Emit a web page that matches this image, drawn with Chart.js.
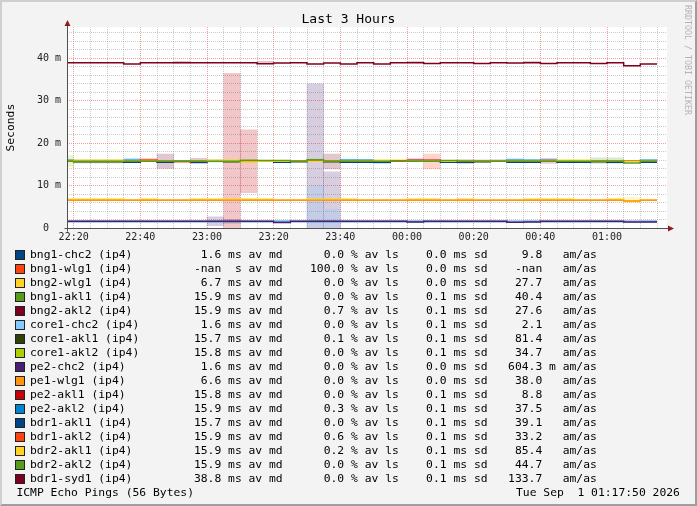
<!DOCTYPE html>
<html>
<head>
<meta charset="utf-8">
<script src="https://cdn.jsdelivr.net/npm/chart.js@4.4.1/dist/chart.umd.min.js"></script>
<style>
  html, body { margin: 0; padding: 0; background: #f3f3f3; }
  #wrap { position: relative; width: 697px; height: 506px; overflow: hidden; font-family: "DejaVu Sans Mono", monospace; color: #000; }
  #wrap canvas { position: absolute; left: 0; top: 0; }
  .frame { position: absolute; left: 0; top: 0; width: 697px; height: 506px; box-sizing: border-box; border: 2px solid; border-color: #cfcfcf #9e9e9e #9e9e9e #cfcfcf; pointer-events: none; }
  .title { position: absolute; left: 0; top: 10px; width: 697px; text-align: center; font-size: 13px; line-height: 18px; }
  .mark { position: absolute; left: 683px; top: 5px; font-size: 8.3px; line-height: 10px; color: #b4b4b4; writing-mode: vertical-rl; }
  .row { position: absolute; left: 30px; font-size: 11.35px; line-height: 14px; white-space: pre; }
  .sw { position: absolute; left: 15px; width: 10px; height: 10px; box-sizing: border-box; border: 1px solid #222; }
</style>
</head>
<body>
<div id="wrap">
  <canvas id="chart" width="697" height="506"></canvas>
  <div class="title">Last 3 Hours</div>
  <div class="mark">RRDTOOL / TOBI OETIKER</div>
  <div id="legend"></div>
  <div class="frame"></div>
</div>
<script>
// 5 minute bins, the first one is only partly on screen
const binStarts = ["22:15", "22:20", "22:25", "22:30", "22:35", "22:40", "22:45", "22:50", "22:55",
  "23:00", "23:05", "23:10", "23:15", "23:20", "23:25", "23:30", "23:35", "23:40", "23:45", "23:50", "23:55",
  "00:00", "00:05", "00:10", "00:15", "00:20", "00:25", "00:30", "00:35", "00:40", "00:45", "00:50", "00:55",
  "01:00", "01:05", "01:10"];
const binEnd = "01:15";
const viewStart = "22:18";
const viewEnd = "01:18";
const tickLabels = ["22:20", "22:40", "23:00", "23:20", "23:40", "00:00", "00:20", "00:40", "01:00"];
const yTickLabels = ["0  ", "10 m", "20 m", "30 m", "40 m"];

const names = ["bng1-chc2 (ip4)", "bng1-wlg1 (ip4)", "bng2-wlg1 (ip4)", "bng1-akl1 (ip4)", "bng2-akl2 (ip4)",
  "core1-chc2 (ip4)", "core1-akl1 (ip4)", "core1-akl2 (ip4)", "pe2-chc2 (ip4)", "pe1-wlg1 (ip4)",
  "pe2-akl1 (ip4)", "pe2-akl2 (ip4)", "bdr1-akl1 (ip4)", "bdr1-akl2 (ip4)", "bdr2-akl1 (ip4)",
  "bdr2-akl2 (ip4)", "bdr1-syd1 (ip4)"];
const colors = ["#004586", "#ff420e", "#ffd320", "#579d1c", "#7e0021", "#83caff", "#314004", "#aecf00",
  "#4b1f6f", "#ff950e", "#c5000b", "#0084d1", "#004586", "#ff420e", "#ffd320", "#579d1c", "#7e0021"];

// median rtt per bin (ms)
const bng1Chc2 = [1.6, 1.6, 1.6, 1.6, 1.6, 1.6, 1.6, 1.6, 1.6, 1.6, 1.6, 1.6, 1.6, 1.6, 1.6, 1.6, 1.6, 1.6,
  1.6, 1.6, 1.6, 1.6, 1.6, 1.6, 1.6, 1.6, 1.6, 1.6, 1.6, 1.6, 1.6, 1.6, 1.6, 1.6, 1.6, 1.6];
const bng1Wlg1 = [null, null, null, null, null, null, null, null, null, null, null, null, null, null, null, null, null, null,
  null, null, null, null, null, null, null, null, null, null, null, null, null, null, null, null, null, null];
const bng2Wlg1 = [6.85, 6.85, 6.85, 6.85, 6.65, 6.85, 6.65, 6.65, 6.85, 6.85, 6.85, 6.85, 6.85, 6.65, 6.65, 6.85, 6.85, 6.85,
  6.65, 6.65, 6.65, 6.85, 6.85, 6.65, 6.85, 6.65, 6.65, 6.65, 6.85, 6.85, 6.85, 6.65, 6.65, 6.85, 6.45, 6.65];
const bng1Akl1 = [15.9, 15.9, 15.9, 15.9, 15.9, 15.9, 15.9, 15.9, 15.9, 15.9, 15.9, 15.9, 15.9, 15.9, 15.9, 15.9, 15.9, 15.9,
  15.9, 15.9, 15.9, 15.9, 15.9, 15.9, 15.9, 15.9, 15.9, 15.9, 15.9, 15.9, 15.9, 15.9, 15.9, 15.9, 15.9, 15.9];
const bng2Akl2 = [15.85, 15.85, 15.85, 15.85, 15.85, 15.85, 15.85, 15.85, 15.85, 15.85, 15.85, 15.85, 15.85, 15.85, 15.85, 15.85, 15.85, 15.85,
  15.85, 15.85, 15.85, 15.85, 15.85, 15.85, 15.85, 15.85, 15.85, 15.85, 15.85, 15.85, 15.85, 15.85, 15.85, 15.85, 15.85, 15.85];
const core1Chc2 = [1.6, 1.6, 1.6, 1.6, 1.6, 1.6, 1.6, 1.6, 1.6, 1.6, 1.6, 1.6, 1.6, 1.72, 1.6, 1.6, 1.6, 1.6,
  1.6, 1.6, 1.6, 1.72, 1.6, 1.6, 1.6, 1.6, 1.6, 1.6, 1.72, 1.6, 1.6, 1.6, 1.6, 1.6, 1.6, 1.72];
const core1Akl1 = [15.8, 15.65, 15.65, 15.65, 15.8, 15.8, 15.8, 15.8, 15.8, 15.8, 15.65, 15.8, 15.8, 15.8, 15.65, 15.8, 15.65, 15.8,
  15.8, 15.8, 15.8, 15.8, 15.8, 15.8, 15.65, 15.65, 15.8, 15.8, 15.8, 15.8, 15.8, 15.8, 15.65, 15.8, 15.8, 15.8];
const core1Akl2 = [15.8, 15.8, 15.8, 15.8, 15.8, 15.8, 15.8, 15.8, 15.8, 15.8, 15.8, 15.8, 15.8, 15.8, 15.8, 15.8, 15.8, 15.8,
  15.8, 15.8, 15.8, 15.8, 15.8, 15.8, 15.8, 15.8, 15.8, 15.8, 15.8, 15.8, 15.8, 15.8, 15.8, 15.8, 15.8, 15.8];
const pe2Chc2 = [1.65, 1.65, 1.65, 1.65, 1.65, 1.65, 1.65, 1.65, 1.65, 1.65, 1.65, 1.65, 1.65, 1.35, 1.65, 1.65, 1.65, 1.65,
  1.65, 1.65, 1.65, 1.5, 1.65, 1.65, 1.65, 1.65, 1.65, 1.45, 1.5, 1.65, 1.65, 1.65, 1.65, 1.65, 1.5, 1.5];
const pe1Wlg1 = [6.6, 6.6, 6.6, 6.6, 6.6, 6.6, 6.6, 6.6, 6.6, 6.6, 6.6, 6.6, 6.6, 6.6, 6.6, 6.6, 6.6, 6.6,
  6.6, 6.6, 6.6, 6.6, 6.6, 6.6, 6.6, 6.6, 6.6, 6.6, 6.6, 6.6, 6.6, 6.6, 6.6, 6.6, 6.4, 6.6];
const pe2Akl1 = [15.8, 15.8, 15.8, 15.8, 15.8, 15.8, 15.8, 15.8, 15.8, 15.8, 15.8, 15.8, 15.8, 15.8, 15.8, 15.8, 15.8, 15.8,
  15.8, 15.8, 15.8, 16.05, 16.05, 15.8, 15.8, 15.8, 15.8, 15.8, 15.8, 15.8, 15.8, 15.8, 15.8, 15.8, 15.8, 15.8];
const pe2Akl2 = [16.05, 15.8, 15.8, 15.8, 16.05, 15.8, 15.8, 15.8, 15.8, 15.8, 15.8, 15.8, 15.8, 15.8, 15.8, 15.8, 15.8, 16.05,
  16.05, 15.8, 15.8, 15.8, 15.8, 15.8, 15.8, 15.8, 15.8, 16.05, 16.05, 16.05, 15.8, 15.8, 15.8, 15.8, 15.8, 16.05];
const bdr1Akl1 = [15.8, 15.8, 15.8, 15.8, 15.58, 15.8, 15.58, 15.8, 15.58, 15.8, 15.8, 15.8, 15.8, 15.58, 15.8, 15.8, 15.8, 15.58,
  15.58, 15.58, 15.8, 15.8, 15.8, 15.58, 15.58, 15.8, 15.8, 15.58, 15.58, 15.8, 15.58, 15.58, 15.8, 15.58, 15.8, 15.58];
const bdr1Akl2 = [15.8, 15.8, 15.8, 15.8, 15.8, 16.1, 15.8, 15.65, 15.8, 15.8, 15.8, 15.8, 15.8, 15.8, 15.8, 15.8, 15.8, 15.8,
  15.8, 15.8, 15.8, 15.8, 15.8, 15.8, 15.8, 15.8, 15.8, 15.8, 15.8, 15.8, 15.8, 15.8, 15.8, 15.8, 15.8, 15.8];
const bdr2Akl1 = [15.8, 16.02, 16.02, 16.02, 15.8, 15.8, 15.8, 15.8, 15.8, 16.02, 16.02, 15.6, 15.8, 15.8, 15.8, 15.8, 15.8, 15.8,
  15.8, 16.02, 16.02, 15.8, 15.8, 15.8, 15.8, 15.8, 15.8, 15.8, 15.8, 15.8, 16.02, 16.02, 15.8, 15.8, 15.8, 15.8];
const bdr2Akl2 = [15.8, 15.8, 15.8, 15.8, 15.8, 15.8, 15.8, 15.8, 15.8, 15.8, 15.8, 16.0, 15.95, 15.95, 15.8, 16.15, 15.8, 15.8,
  15.8, 15.8, 15.9, 15.8, 15.8, 15.95, 15.8, 15.8, 15.8, 15.8, 15.8, 15.8, 15.8, 15.8, 15.8, 15.8, 15.38, 15.8];
const bdr1Syd1 = [39.0, 39.0, 39.0, 39.0, 38.7, 39.0, 39.0, 39.0, 39.0, 39.0, 39.0, 39.0, 38.75, 38.9, 39.0, 38.7, 38.9, 38.7,
  39.0, 38.7, 39.0, 39.0, 38.8, 39.0, 39.0, 38.8, 39.0, 38.95, 39.0, 38.8, 39.0, 39.0, 38.8, 39.0, 38.3, 38.7];
const medians = [bng1Chc2, bng1Wlg1, bng2Wlg1, bng1Akl1, bng2Akl2, core1Chc2, core1Akl1, core1Akl2, pe2Chc2,
  pe1Wlg1, pe2Akl1, pe2Akl2, bdr1Akl1, bdr1Akl2, bdr2Akl1, bdr2Akl2, bdr1Syd1];

// smoke (ping spread) per bin: series index, bin index, low, high (ms)
const smokeSeries = [7, 6, 6, 6, 11, 13, 4, 4, 11, 10, 10, 8, 8, 8, 8, 5, 5, 15, 4, 11, 11, 11, 4, 13, 4, 6, 6, 11, 10, 3, 3, 2, 16, 16, 16, 16];
const smokeBins =   [0, 1, 2, 3, 4, 5, 6, 8, 9, 10, 11, 9, 10, 15, 16, 15, 16, 15, 16, 17, 18, 19, 21, 22, 24, 25, 26, 27, 29, 32, 33, 34, 7, 12, 21, 28];
const smokeLo = [14.6, 15.4, 15.4, 15.4, 15.8, 15.9, 14.1, 15.2, 15.6, 0, 8.4, 0.6, 1.2, 0, 0, 0, 0, 15.9, 14.0, 15.7, 15.8, 15.2,
  16.0, 14.0, 15.3, 15.6, 15.7, 16.0, 15.3, 15.3, 15.3, 5.9, 38.9, 38.9, 39.0, 39.0];
const smokeHi = [17.1, 16.1, 16.1, 16.1, 16.5, 16.5, 17.5, 16.5, 16.2, 36.5, 23.2, 2.7, 2.1, 34.0, 13.3, 10.0, 4.5, 16.3, 17.5, 16.3, 16.2, 15.6,
  16.4, 17.5, 16.2, 16.1, 16.2, 16.4, 16.5, 16.6, 16.6, 7.3, 39.3, 39.3, 39.3, 39.3];

// legend statistics
const avgMedian = [1.6, NaN, 6.7, 15.9, 15.9, 1.6, 15.7, 15.8, 1.6, 6.6, 15.8, 15.9, 15.7, 15.9, 15.9, 15.9, 38.8];
const avgLoss = [0.0, 100.0, 0.0, 0.0, 0.7, 0.0, 0.1, 0.0, 0.0, 0.0, 0.0, 0.3, 0.0, 0.6, 0.2, 0.0, 0.0];
const avgSd = [0.0, 0.0, 0.0, 0.1, 0.1, 0.1, 0.1, 0.1, 0.0, 0.0, 0.1, 0.1, 0.1, 0.1, 0.1, 0.1, 0.1];
const amAs = [9.8, NaN, 27.7, 40.4, 27.6, 2.1, 81.4, 34.7, 0.6043, 38.0, 8.8, 37.5, 39.1, 33.2, 85.4, 44.7, 133.7];
const footerLeft = "ICMP Echo Pings (56 Bytes)";
const footerRight = "Tue Sep  1 01:17:50 2026";

function toMin(t) {
  let [h, m] = t.split(":").map(Number);
  if (h < 12) h += 24;
  return h * 60 + m - (22 * 60 + 15);
}
function fade(hex, a) {
  const n = parseInt(hex.slice(1), 16);
  return `rgba(${n >> 16},${(n >> 8) & 255},${n & 255},${a})`;
}

const datasets = [];
names.forEach((name, i) => {
  const vals = medians[i];
  const pts = binStarts.map((t, k) => ({ x: toMin(t), y: vals[k] }));
  pts.push({ x: toMin(binEnd), y: vals[vals.length - 1] });
  datasets.push({
    type: "line", label: name, data: pts, borderColor: colors[i], borderWidth: 1.5,
    pointRadius: 0, stepped: "before", fill: false, order: 50 - i
  });
});
names.forEach((name, i) => {
  const pts = [];
  smokeSeries.forEach((s, j) => {
    if (s === i) pts.push({ x: toMin(binStarts[smokeBins[j]]) + 2.5, y: [smokeLo[j], smokeHi[j]] });
  });
  if (pts.length) {
    datasets.push({
      type: "bar", label: name + " smoke", data: pts, backgroundColor: fade(colors[i], 0.22),
      borderWidth: 0, barPercentage: 1, categoryPercentage: 1, grouped: false, order: 100
    });
  }
});

const xGrid = binStarts.slice(1).concat([binEnd]).map(toMin);
const xLabelAt = {};
tickLabels.forEach(t => { xLabelAt[toMin(t)] = t; });
const yGrid = [];
for (let v = 0; v <= 46; v += 2) yGrid.push(v);
const yLabelAt = {};
yTickLabels.forEach((t, i) => { yLabelAt[i * 10] = t; });

const mono = "'DejaVu Sans Mono', monospace";

const canvasBack = {
  id: "canvasBack",
  beforeDraw(chart) {
    const { ctx, chartArea: a } = chart;
    ctx.save();
    ctx.fillStyle = "#ffffff";
    ctx.fillRect(a.left, a.top, a.right - a.left, a.bottom - a.top);
    ctx.restore();
  }
};
const axesArrows = {
  id: "axesArrows",
  afterDatasetsDraw(chart) {
    const { ctx, chartArea: a } = chart;
    const x0 = Math.round(a.left) + 0.5, y0 = Math.round(a.bottom) + 0.5;
    ctx.save();
    ctx.strokeStyle = "#505050";
    ctx.lineWidth = 1;
    ctx.beginPath();
    ctx.moveTo(x0 - 3, y0); ctx.lineTo(a.right + 2, y0);
    ctx.moveTo(x0, y0 + 3); ctx.lineTo(x0, a.top - 3);
    ctx.stroke();
    ctx.fillStyle = "#8f1d1d";
    ctx.beginPath();
    ctx.moveTo(a.right + 1, y0 - 3); ctx.lineTo(a.right + 7, y0); ctx.lineTo(a.right + 1, y0 + 3); ctx.closePath();
    ctx.moveTo(x0 - 3, a.top - 1); ctx.lineTo(x0, a.top - 7); ctx.lineTo(x0 + 3, a.top - 1); ctx.closePath();
    ctx.fill();
    ctx.restore();
  }
};

new Chart(document.getElementById("chart").getContext("2d"), {
  type: "line",
  data: { datasets },
  options: {
    responsive: false,
    animation: false,
    events: [],
    layout: { padding: { left: 0, top: 27, right: 30, bottom: 257.7 } },
    plugins: { legend: { display: false }, tooltip: { enabled: false }, title: { display: false } },
    scales: {
      x: {
        type: "linear", min: toMin(viewStart), max: toMin(viewEnd), offset: false,
        afterBuildTicks: s => { s.ticks = xGrid.map(v => ({ value: v })); },
        afterFit: s => { s.height = 20; },
        grid: {
          offset: false, drawTicks: false, lineWidth: 1,
          color: c => (xLabelAt[c.tick.value] ? "rgba(235,80,80,0.55)" : "rgba(150,150,150,0.5)")
        },
        border: { display: false, dash: [1, 1] },
        ticks: {
          autoSkip: false, maxRotation: 0, padding: 3, color: "#222",
          font: { family: mono, size: 10 },
          callback: v => xLabelAt[v] || ""
        }
      },
      y: {
        type: "linear", min: 0, max: 47.4,
        afterBuildTicks: s => { s.ticks = yGrid.map(v => ({ value: v })); },
        afterFit: s => { s.width = 67; },
        grid: {
          drawTicks: false, lineWidth: 1,
          color: c => (c.tick.value > 0 && yLabelAt[c.tick.value] ? "rgba(235,80,80,0.55)" : "rgba(150,150,150,0.5)")
        },
        border: { display: false, dash: [1, 1] },
        ticks: {
          autoSkip: false, padding: 6, color: "#222",
          font: { family: mono, size: 10 },
          callback: v => yLabelAt[v] || ""
        },
        title: {
          display: true, text: "Seconds", color: "#000",
          font: { family: mono, size: 11.35 }, padding: { top: 4.2, bottom: 0 }
        }
      }
    }
  },
  plugins: [canvasBack, axesArrows]
});

// legend block as text rows
function fmt5(v) { return isNaN(v) ? " -nan" : v.toFixed(1).padStart(5); }
const legend = document.getElementById("legend");
const rowTop = 246.8, rowStep = 14;
names.forEach((name, i) => {
  const top = rowTop + rowStep * i;
  const sw = document.createElement("div");
  sw.className = "sw";
  sw.style.top = Math.round(top + 3) + "px";
  sw.style.background = colors[i];
  legend.appendChild(sw);
  const med = avgMedian[i];
  const am = amAs[i];
  const amText = !isNaN(am) && am < 1 ? fmt5(am * 1000) + " m" : fmt5(am) + "  ";
  const text = name.padEnd(23) + fmt5(med) + " " + (isNaN(med) ? " " : "m") + "s av md" +
    "    " + fmt5(avgLoss[i]) + " % av ls" +
    "  " + fmt5(avgSd[i]) + " ms sd" +
    "   " + amText + " am/as";
  const row = document.createElement("div");
  row.className = "row";
  row.style.top = top + "px";
  row.textContent = text;
  legend.appendChild(row);
});
const fl = document.createElement("div");
fl.className = "row";
fl.style.left = "16.4px";
fl.style.top = (rowTop + rowStep * 17) + "px";
fl.textContent = footerLeft;
legend.appendChild(fl);
const fr = document.createElement("div");
fr.className = "row";
fr.style.left = "516px";
fr.style.top = (rowTop + rowStep * 17) + "px";
fr.textContent = footerRight;
legend.appendChild(fr);
</script>
</body>
</html>
